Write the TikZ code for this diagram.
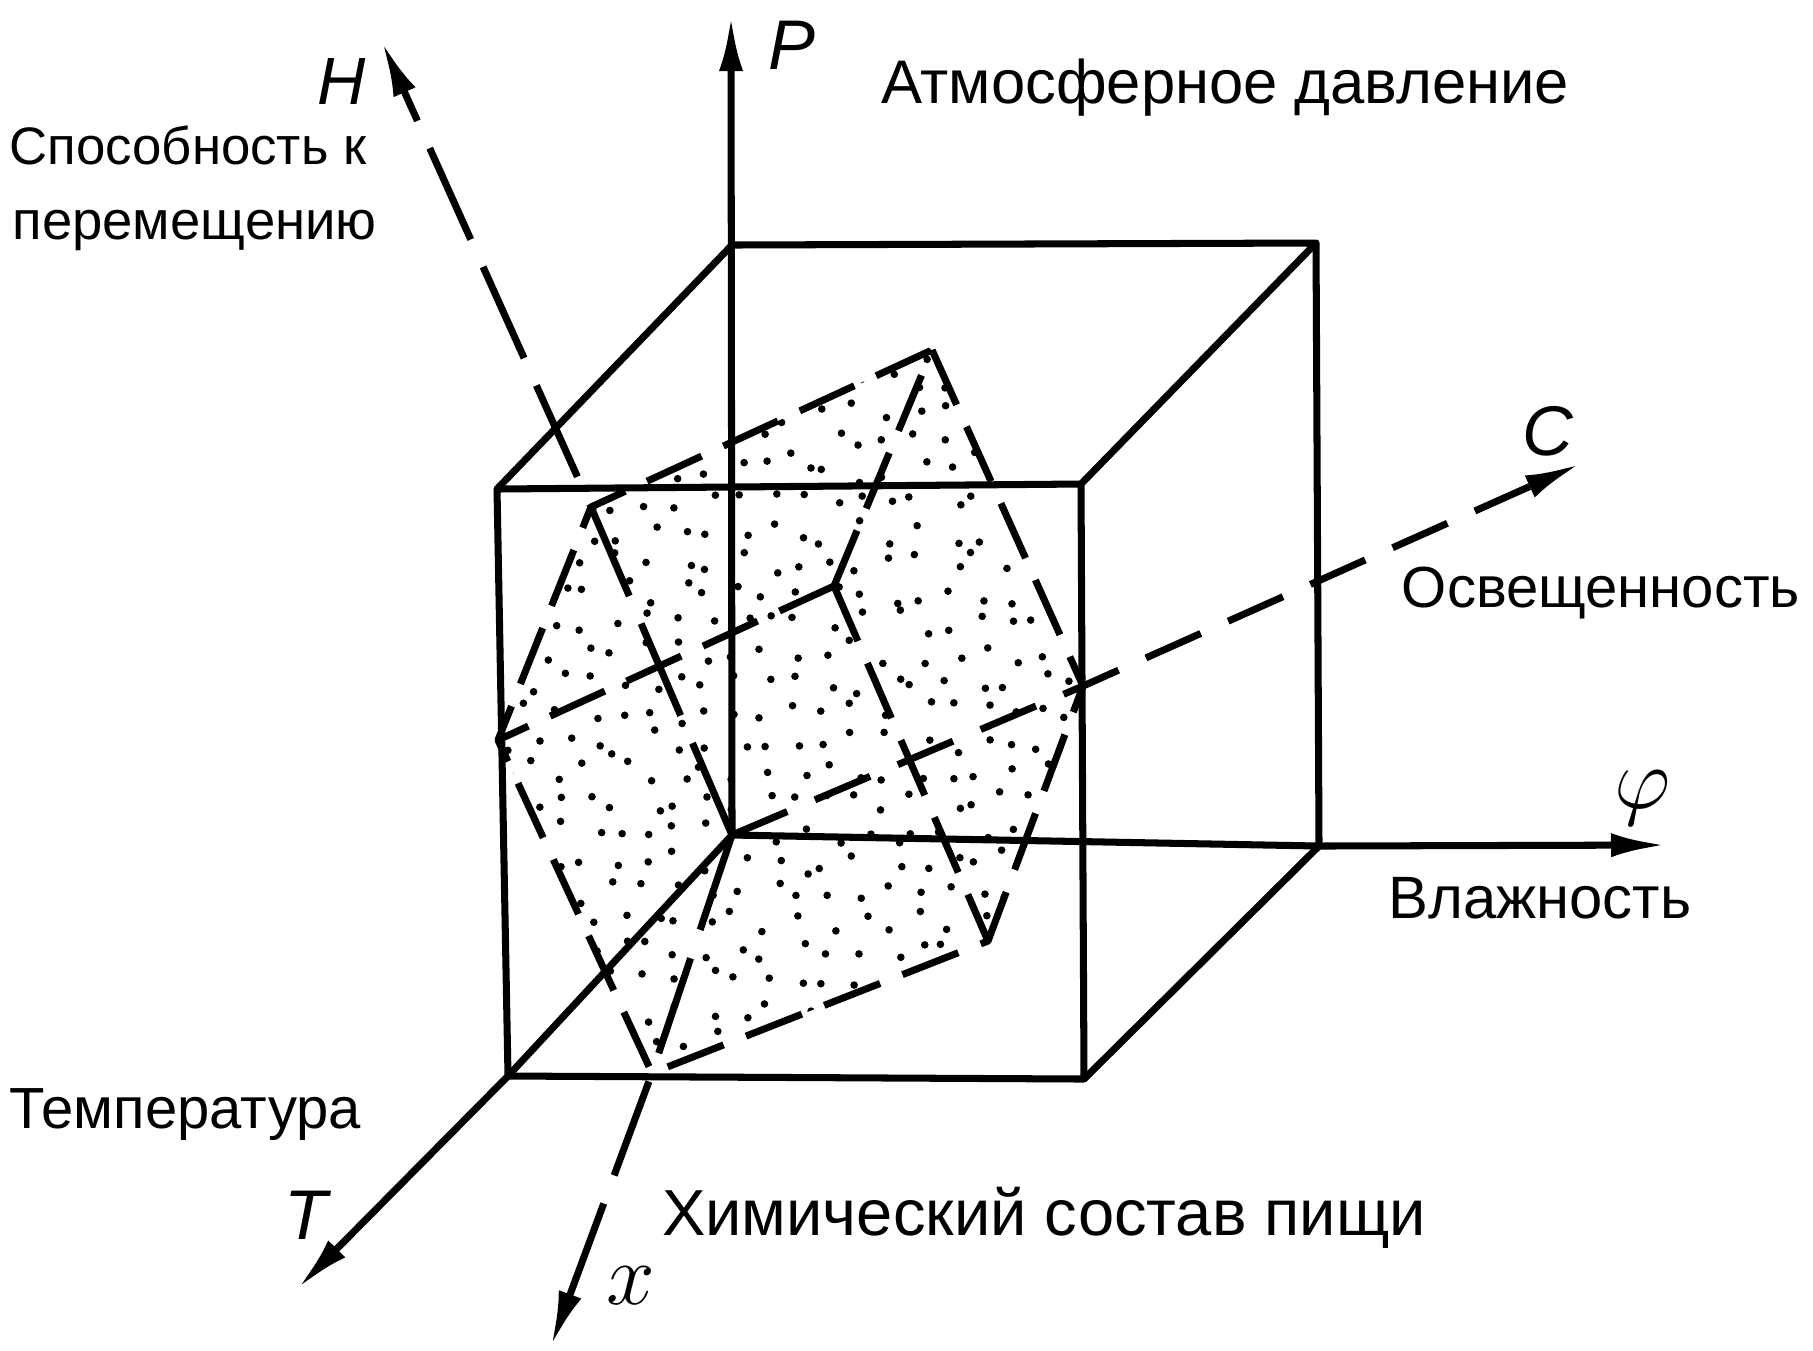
\documentclass[tikz,border=0pt]{standalone}
\usepackage{fontspec}
\setmainfont{Liberation Sans}
\usetikzlibrary{arrows.meta}

\begin{document}
\begin{tikzpicture}[x=0.01cm, y=-0.01cm, line width=2pt, line join=round,
    axis/.style={-{Latex[length=5.5mm,width=2.4mm]}},
    dashaxis/.style={axis, dash pattern=on 10mm off 3mm},
    caxis/.style={axis, dash pattern=on 6mm off 3mm},
    plane/.style={dash pattern=on 6mm off 2.4mm},
    lbl/.style={inner sep=0pt, font=\fontsize{#1}{#1}\selectfont},
    lbl/.default=16,
    axlbl/.style={inner sep=0pt, font=\fontsize{#1}{#1}\selectfont\itshape},
    axlbl/.default=20]
			\fill[white] (0,0) rectangle (1813,1350);
			\useasboundingbox (0,0) rectangle (1813,1350);

			% Cube corners
			\coordinate (O) at (732,835);       % Origin, back bottom left
			\coordinate (btl) at (732,245);
			\coordinate (btr) at (1316,243);
			\coordinate (bbr) at (1319,846);
			\coordinate (ftl) at (497,489);
			\coordinate (ftr) at (1081,484);
			\coordinate (fbr) at (1084,1079);
			\coordinate (fbl) at (508,1076);

			% Axis ends
			\coordinate (Ptip) at (731,16);
			\coordinate (phitip) at (1666,845);
			\coordinate (Ttip) at (298,1288);
			\coordinate (Htip) at (382,42);
			\coordinate (Ctip) at (1580,464);
			\coordinate (xtip) at (551,1346);

			% Corners of the plane
			\coordinate (pTop) at (932,350);
			\coordinate (pRight) at (1083,686);
			\coordinate (pLowR) at (988,941);
			\coordinate (pLowL) at (652,1073);
			\coordinate (pLeft) at (498,740);
			\coordinate (pUpL) at (591,507);
			\coordinate (pInner) at (834,586);

			% Stippled plane
			\pgfmathsetseed{11}
			\begin{scope}
				\clip (pTop) -- (pRight) -- (pLowR) -- (pLowL) -- (pLeft) -- (pUpL) -- cycle;
				\foreach \gx in {500,530,...,1084}
					\foreach \gy in {352,382,...,1074}
						\fill ({\gx+12*rand},{\gy+12*rand}) circle[radius=0.38mm];
			\end{scope}

			% Dashed edges of the plane
			\draw[plane] (pTop) -- (pRight) -- (pLowR) -- (pLowL) -- (pLeft) -- (pUpL) -- cycle;
			\draw[plane] (pInner) -- (pTop);
			\draw[plane] (pInner) -- (pLeft);
			\draw[plane] (pInner) -- (pLowR);

			% Axes
			\draw[axis] (O) -- (Ptip);
			\draw[axis] (O) -- (bbr) -- (phitip);
			\draw[axis] (O) -- (fbl) -- (Ttip);
			\draw[dashaxis] (O) -- (pUpL) -- (Htip);
			\draw[caxis] (O) -- (pRight) -- (Ctip);
			\draw[dashaxis] (O) -- (pLowL) -- (xtip);

			% Cube
			\draw (ftl) -- (ftr) -- (fbr) -- (fbl) -- cycle;
			\draw (ftl) -- (btl) -- (btr) -- (ftr);
			\draw (btr) -- (bbr) -- (fbr);

			% Axis letters
			\node[axlbl] (Plbl) at (792,45) {P};
			\node[axlbl=19] (Hlbl) at (342,82) {H};
			\node[axlbl] (Clbl) at (1548,431) {C};
			\node[axlbl=27] (philbl) at (1643,798) {$\varphi$};
			\node[axlbl] (Tlbl) at (306,1215) {T};
			\node[axlbl=27] (xlbl) at (631,1286) {$x$};

			% Captions
			\node[lbl=17.5, anchor=base] (atm) at (1225,103) {Атмосферное давление};
			\node[lbl=15, anchor=base west] (move) at (6,164) {Способность к};
			\node[lbl=15.5, anchor=base west] (move2) at (9,239) {перемещению};
			\node[lbl=16.5, anchor=base] (light) at (1601,607) {Освещенность};
			\node[lbl=17, anchor=base] (hum) at (1540,918) {Влажность};
			\node[lbl=16.5, anchor=base west] (temp) at (6,1128) {Температура};
			\node[lbl=18.5, anchor=base] (chem) at (1044,1235) {Химический состав пищи};
		\end{tikzpicture}
\end{document}
